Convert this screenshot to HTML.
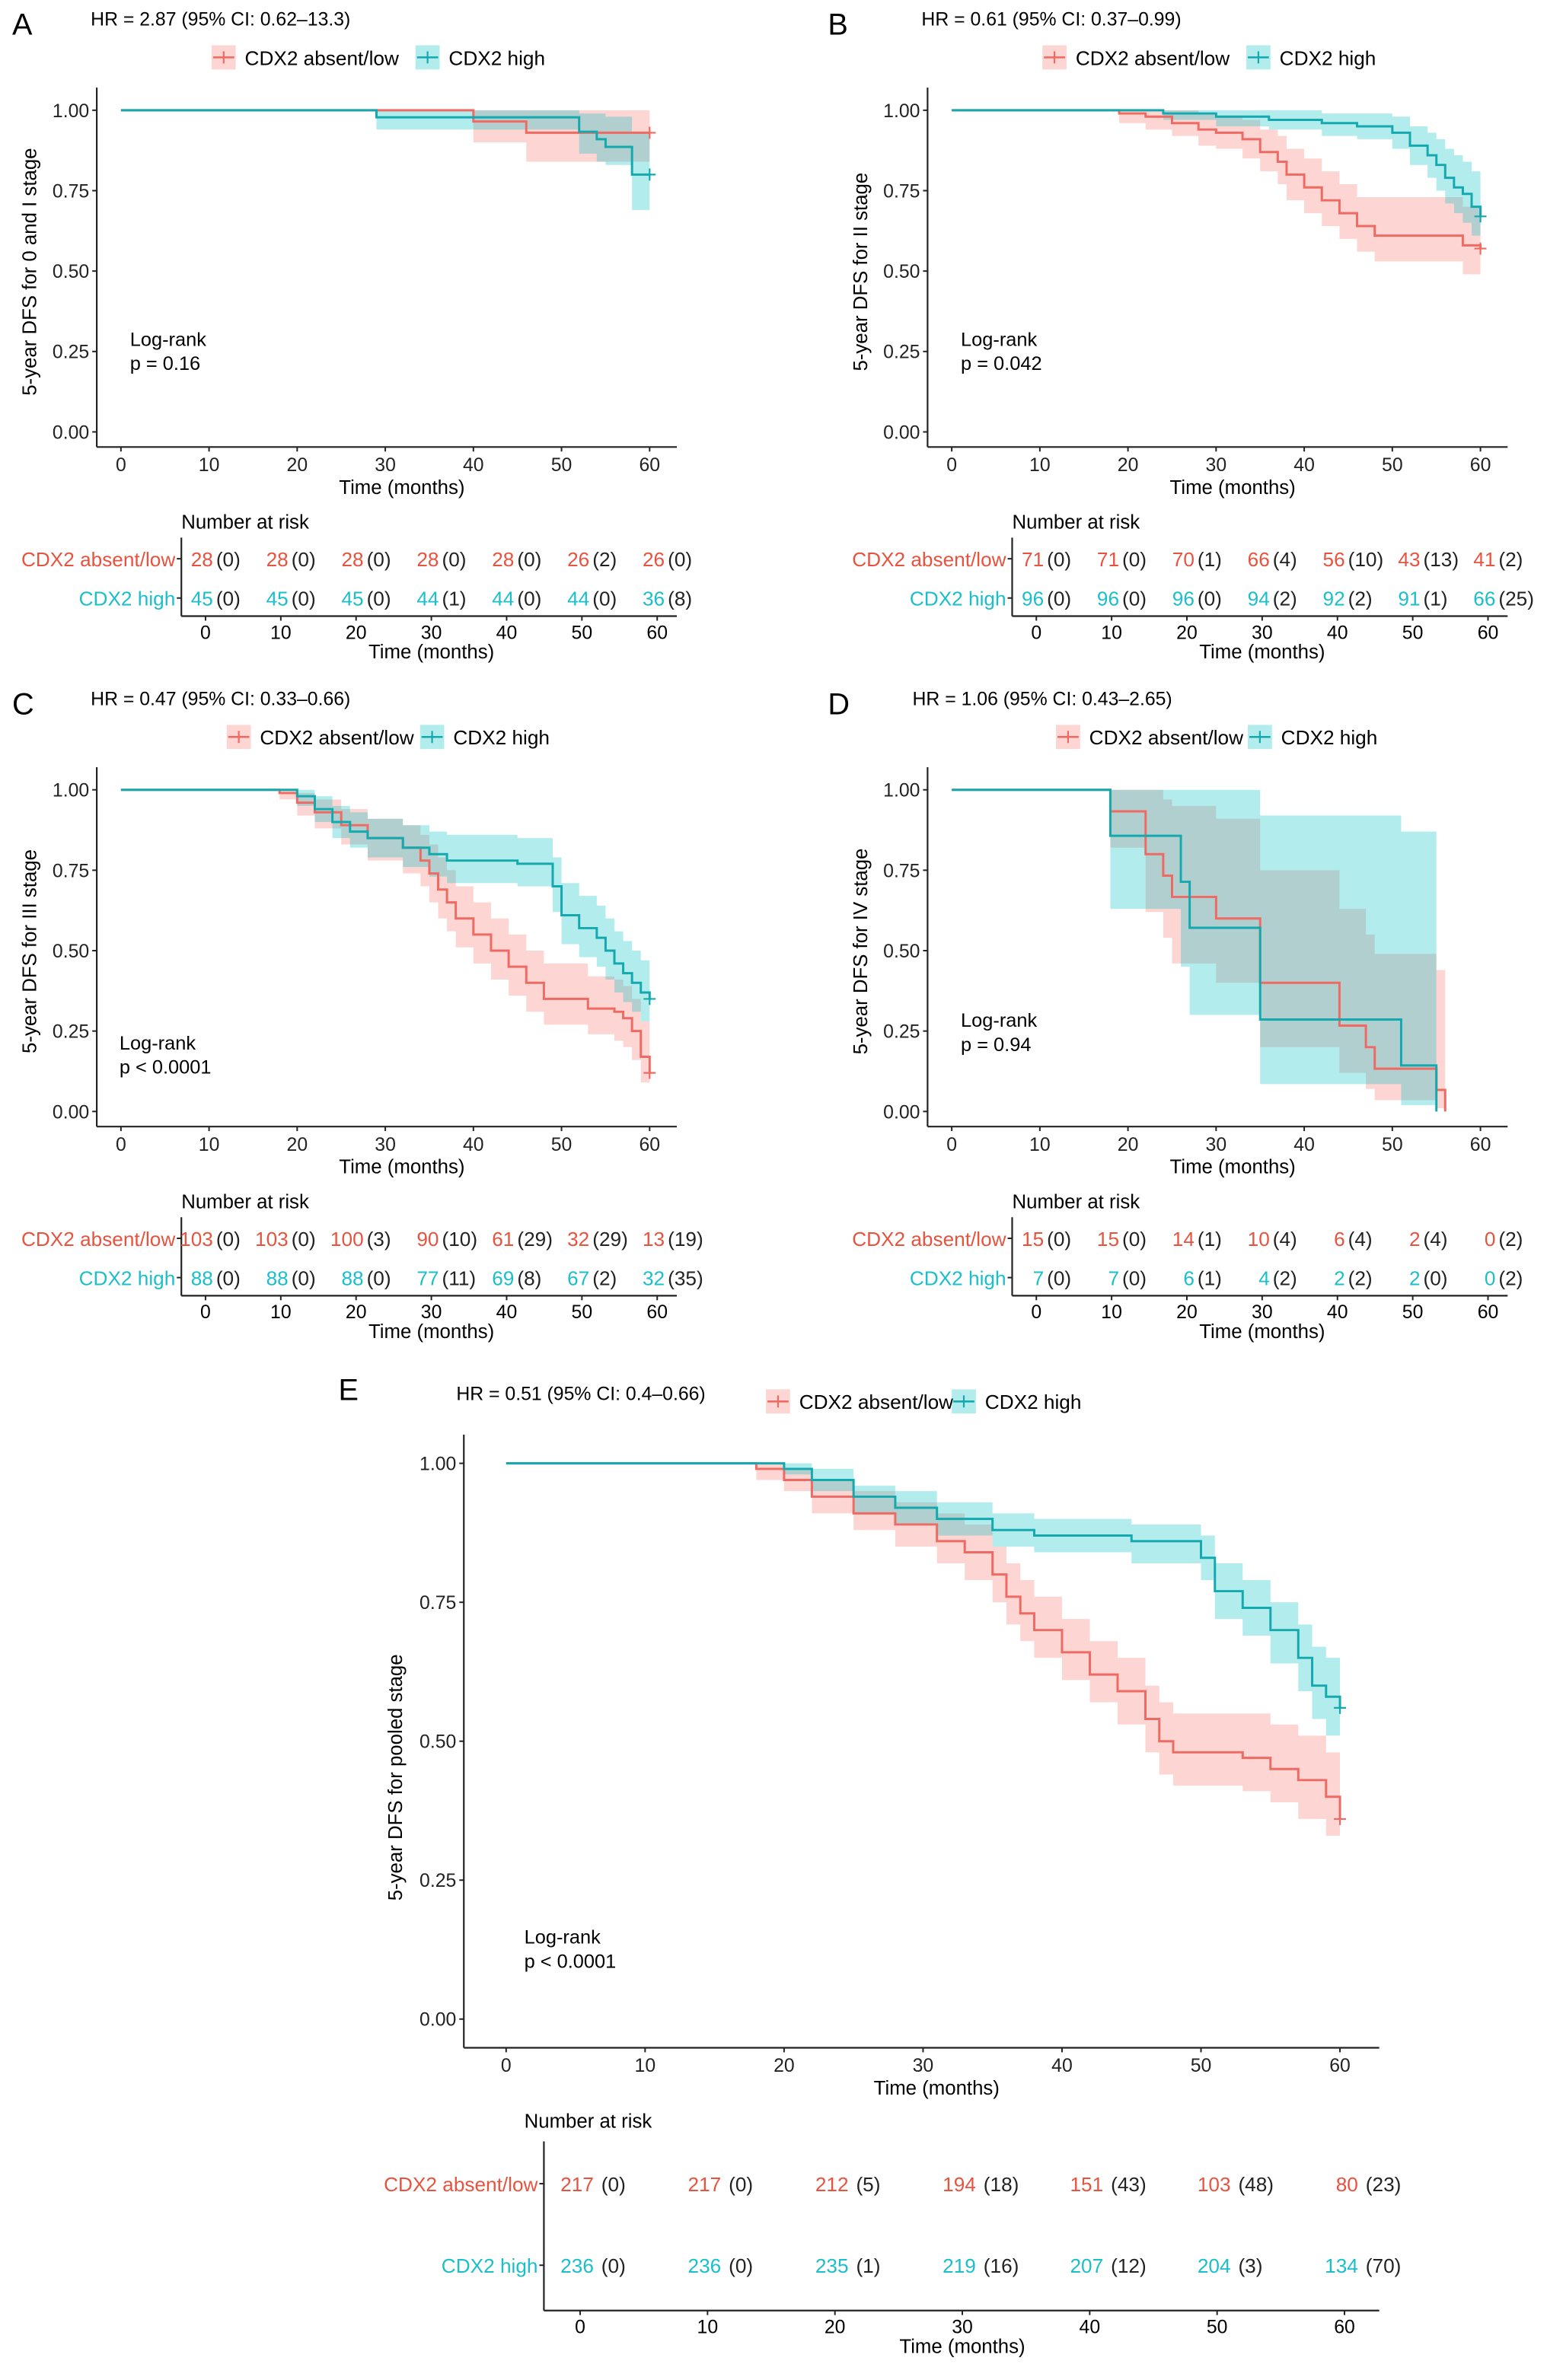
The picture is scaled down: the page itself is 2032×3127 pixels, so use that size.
<!DOCTYPE html>
<html><head><meta charset="utf-8">
<style>
html,body{margin:0;padding:0;background:#fff;}
svg{display:block;font-family:"Liberation Sans",Arial,sans-serif;}
</style></head>
<body>
<svg id="fig" width="2032" height="3127" viewBox="0 0 1024 1576" xmlns="http://www.w3.org/2000/svg"></svg>
<script>
// ---------- DATA ----------
const ticksX=[0,10,20,30,40,50,60];
const ticksY=[0,0.25,0.5,0.75,1];
const tickLabelsY=["0.00","0.25","0.50","0.75","1.00"];
const groupNames=["CDX2 absent/low","CDX2 high"];

const aRedT=[0,40,46,60], aRedS=[1,.965,.93,.93], aRedLo=[1,.90,.84,.84], aRedHi=[1,1,1,1];
const aTealT=[0,29,52,54,55,58,60], aTealS=[1,.978,.933,.91,.886,.80,.80], aTealLo=[1,.94,.865,.84,.83,.69,.69], aTealHi=[1,1,.99,.99,.98,.93,.93];

const bRedT=[0,19,22,25,28,30,33,35,37,38,40,42,44,46,48,58,60], bRedS=[1,.99,.98,.96,.94,.93,.91,.87,.84,.80,.76,.72,.68,.64,.61,.58,.57];
const bRedLo=[1,.96,.94,.92,.89,.88,.85,.81,.77,.72,.68,.64,.60,.56,.53,.49,.48], bRedHi=[1,1,1,1,.99,.98,.97,.94,.92,.88,.85,.81,.77,.73,.73,.70,.70];
const bTealT=[0,24,30,36,42,46,50,52,54,55,56,57,58,59,60], bTealS=[1,.99,.98,.97,.96,.95,.93,.89,.86,.83,.79,.76,.74,.70,.67];
const bTealLo=[1,.97,.95,.94,.92,.91,.88,.83,.79,.75,.71,.68,.65,.61,.59], bTealHi=[1,1,1,1,.99,.99,.98,.95,.93,.91,.88,.86,.84,.81,.78];

const cRedT=[0,18,20,22,25,28,32,34,35,36,37,38,40,42,44,46,48,53,56,57,58,59,60], cRedS=[1,.99,.96,.93,.89,.85,.82,.78,.74,.69,.65,.60,.55,.50,.45,.40,.35,.32,.31,.29,.25,.17,.12];
const cRedLo=[1,.97,.92,.88,.83,.78,.74,.70,.65,.60,.56,.51,.46,.41,.36,.31,.27,.24,.22,.20,.16,.09,.05], cRedHi=[1,1,.99,.97,.94,.91,.89,.86,.83,.79,.75,.70,.65,.60,.55,.50,.46,.42,.41,.39,.35,.28,.22];
const cTealT=[0,18,20,22,24,26,28,32,35,37,45,49,50,52,54,55,56,57,58,59,60], cTealS=[1,1,.98,.94,.90,.87,.85,.82,.80,.78,.77,.70,.61,.57,.54,.50,.46,.43,.40,.37,.35];
const cTealLo=[1,1,.95,.90,.85,.82,.79,.76,.73,.71,.70,.62,.52,.48,.45,.41,.37,.34,.31,.28,.26], cTealHi=[1,1,1,.98,.95,.93,.91,.89,.87,.86,.85,.79,.71,.67,.64,.60,.56,.53,.50,.47,.45];

const dRedT=[0,18,22,24,25,30,35,44,47,48,55,56], dRedS=[1,.933,.80,.733,.667,.60,.40,.267,.20,.133,.067,0];
const dRedLo=[1,.82,.62,.54,.46,.40,.20,.12,.07,.035,.01,0], dRedHi=[1,1,1,.97,.95,.91,.75,.63,.55,.49,.44,0];
const dTealT=[0,18,26,27,35,51,55], dTealS=[1,.857,.714,.571,.286,.143,0];
const dTealLo=[1,.63,.45,.30,.085,.02,0], dTealHi=[1,1,1,1,.92,.87,0];

const eRedT=[0,18,20,22,25,28,31,33,35,36,37,38,40,42,44,46,47,48,53,55,57,59,60], eRedS=[1,.99,.97,.94,.91,.89,.86,.84,.80,.76,.73,.70,.66,.62,.59,.54,.50,.48,.47,.45,.43,.40,.36];
const eRedLo=[1,.97,.95,.91,.88,.85,.82,.79,.75,.71,.68,.65,.61,.57,.53,.48,.44,.42,.41,.39,.36,.33,.31], eRedHi=[1,1,.99,.97,.95,.93,.91,.89,.85,.82,.79,.76,.72,.68,.65,.60,.57,.55,.55,.53,.51,.48,.44];
const eTealT=[0,18,20,22,25,28,31,35,38,45,50,51,53,55,57,58,59,60], eTealS=[1,1,.99,.97,.94,.92,.90,.88,.87,.86,.83,.77,.74,.70,.65,.60,.58,.56];
const eTealLo=[1,1,.98,.95,.91,.89,.87,.85,.84,.82,.79,.72,.69,.64,.59,.54,.51,.49], eTealHi=[1,1,1,.99,.96,.95,.93,.91,.90,.89,.87,.82,.79,.75,.71,.67,.65,.63];

const aRiskRed=[28,28,28,28,28,26,26], aCensRed=[0,0,0,0,0,2,0], aRiskTeal=[45,45,45,44,44,44,36], aCensTeal=[0,0,0,1,0,0,8];
const bRiskRed=[71,71,70,66,56,43,41], bCensRed=[0,0,1,4,10,13,2], bRiskTeal=[96,96,96,94,92,91,66], bCensTeal=[0,0,0,2,2,1,25];
const cRiskRed=[103,103,100,90,61,32,13], cCensRed=[0,0,3,10,29,29,19], cRiskTeal=[88,88,88,77,69,67,32], cCensTeal=[0,0,0,11,8,2,35];
const dRiskRed=[15,15,14,10,6,2,0], dCensRed=[0,0,1,4,4,4,2], dRiskTeal=[7,7,6,4,2,2,0], dCensTeal=[0,0,1,2,2,0,2];
const eRiskRed=[217,217,212,194,151,103,80], eCensRed=[0,0,5,18,43,48,23], eRiskTeal=[236,236,235,219,207,204,134], eCensTeal=[0,0,1,16,12,3,70];

// ---------- DRAWING ----------
const NS="http://www.w3.org/2000/svg";
const svg=document.getElementById('fig');
const RED="#F8766D", TEAL="#00BFC4", TEALL="#13A9AE", REDL="#EE6A62", REDT="#E8533F", TEALT="#1BBFCC";
function mk(tag,attrs,parent,text){const e=document.createElementNS(NS,tag);for(const k in attrs)e.setAttribute(k,attrs[k]);if(text!==undefined)e.textContent=text;(parent||svg).appendChild(e);return e;}

function drawPanel(p){
  const g=mk('g',{});
  
  
  const sx=t=>p.x0+(p.x60-p.x0)*t/60;
  const sy=v=>p.y0+(p.y1-p.y0)*v;
  const L=mk('text',{x:p.letter[0],y:p.letter[1],'font-size':20},g,p.id);
  
  
  const hr=mk('text',{x:p.hr[0],y:p.hr[1],'font-size':12.5},g,p.hrText);
  
  
  const lg=mk('g',{},g);
  
  
  [[p.leg[0],RED,REDL,groupNames[0]],[p.leg[2],TEAL,TEALL,groupNames[1]]].forEach((d,i)=>{
    const le=mk('g',{},lg);
    
    
    mk('rect',{x:d[0],y:p.leg[1]-8,width:16,height:16,fill:d[1],'fill-opacity':0.3},le);
    mk('line',{x1:d[0]+1,x2:d[0]+15,y1:p.leg[1],y2:p.leg[1],stroke:d[2],'stroke-width':1.3},le);
    mk('line',{x1:d[0]+8,x2:d[0]+8,y1:p.leg[1]-4,y2:p.leg[1]+4,stroke:d[2],'stroke-width':1.1},le);
    mk('text',{x:d[0]+22,y:p.leg[1]+5,'font-size':13.2},le,d[3]);
  });
  const series=[[p.rT,p.rS,p.rLo,p.rHi,RED,REDL,'red'],[p.tT,p.tS,p.tLo,p.tHi,TEAL,TEALL,'teal']];
  series.forEach(s=>{
    const [T,S,Lo,Hi,f]=s;
    let up=[],lo=[];
    for(let i=0;i<T.length-1;i++){up.push([sx(T[i]),sy(Hi[i])],[sx(T[i+1]),sy(Hi[i])]);lo.push([sx(T[i]),sy(Lo[i])],[sx(T[i+1]),sy(Lo[i])]);}
    const pts=up.concat(lo.reverse()).map(q=>q.join(',')).join(' ');
    const band=mk('polygon',{points:pts,fill:f,'fill-opacity':0.3,stroke:'none'},g);
    
    
  });
  series.forEach(s=>{
    const [T,S]=s;
    let d='M'+sx(T[0])+','+sy(S[0]);
    for(let i=1;i<T.length;i++){d+=' H'+sx(T[i])+' V'+sy(S[i]);}
    const ln=mk('path',{d:d,fill:'none',stroke:s[5],'stroke-width':1.5},g);
    
    
    const lt=T[T.length-1],ls=S[S.length-1];
    if(lt===60&&ls>0){
      const c=mk('path',{d:`M${sx(lt)-4},${sy(ls)}h8M${sx(lt)},${sy(ls)-4}v8`,stroke:s[5],'stroke-width':1.1},g);
      
      
    }
  });
  const ax=mk('g',{},g);
  
  
  mk('line',{x1:p.axL,x2:p.axL,y1:p.axTop,y2:p.axY,stroke:'#222','stroke-width':1.1},ax);
  mk('line',{x1:p.axL,x2:p.axR,y1:p.axY,y2:p.axY,stroke:'#222','stroke-width':1.1},ax);
  ticksX.forEach(t=>{mk('line',{x1:sx(t),x2:sx(t),y1:p.axY,y2:p.axY+3,stroke:'#222'},ax);
    mk('text',{x:sx(t),y:p.axY+16,'font-size':12.5,'text-anchor':'middle',fill:'#222'},ax,t);});
  ticksY.forEach((v,i)=>{mk('line',{x1:p.axL-3,x2:p.axL,y1:sy(v),y2:sy(v),stroke:'#222'},ax);
    mk('text',{x:p.axL-5,y:sy(v)+4.5,'font-size':12.5,'text-anchor':'end',fill:'#222'},ax,tickLabelsY[i]);});
  const xt=mk('text',{x:(p.axL+p.axR)/2+10,y:p.axY+31,'font-size':13,'text-anchor':'middle'},g,'Time (months)');
  
  
  const yt=mk('text',{x:0,y:0,'font-size':13,'text-anchor':'middle',transform:`translate(${p.yTitle[0]},${p.yTitle[1]}) rotate(-90)`},g,p.yTitleText);
  
  
  const lr=mk('text',{x:p.lr[0],y:p.lr[1],'font-size':12.8},g);
  
  
  mk('tspan',{x:p.lr[0],dy:0},lr,'Log-rank');
  mk('tspan',{x:p.lr[0],dy:16},lr,p.pText);
  const r=p.risk;
  const rsx=t=>r.x0+(r.x60-r.x0)*t/60;
  const rt=mk('g',{},g);
  
  
  mk('text',{x:r.title[0],y:r.title[1],'font-size':13},rt,'Number at risk');
  mk('line',{x1:r.vx,x2:r.vx,y1:r.top,y2:r.hy,stroke:'#222','stroke-width':1.1},rt);
  mk('line',{x1:r.vx,x2:p.axR,y1:r.hy,y2:r.hy,stroke:'#222','stroke-width':1.1},rt);
  [[r.rowY[0],REDT,p.riskR,p.censR,groupNames[0]],[r.rowY[1],TEALT,p.riskT,p.censT,groupNames[1]]].forEach(row=>{
    mk('line',{x1:r.vx-3,x2:r.vx,y1:row[0],y2:row[0],stroke:'#222'},rt);
    mk('text',{x:r.vx-4,y:row[0]+5,'font-size':13.2,'text-anchor':'end',fill:row[1]},rt,row[4]);
    ticksX.forEach((t,i)=>{
      mk('text',{x:rsx(t)+r.nOff,y:row[0]+5,'font-size':13.2,'text-anchor':'end',fill:row[1]},rt,row[2][i]);
      mk('text',{x:rsx(t)+r.cOff,y:row[0]+5,'font-size':13.2,fill:'#222'},rt,'('+row[3][i]+')');
    });
  });
  ticksX.forEach(t=>{mk('line',{x1:rsx(t),x2:rsx(t),y1:r.hy,y2:r.hy+3,stroke:'#222'},rt);
    mk('text',{x:rsx(t),y:r.hy+15,'font-size':12.5,'text-anchor':'middle'},rt,t);});
  mk('text',{x:(r.x0+r.x60)/2,y:r.hy+28,'font-size':13,'text-anchor':'middle'},rt,'Time (months)');
}

function smallPanel(id,dx,dy,extra){
  return Object.assign({id:id,letter:[8+dx-(dx?10:0),23+dy],hr:[60+dx,17+dy],leg:[140+dx,38+dy,275+dx],
    x0:80+dx,x60:430+dx,y1:73+dy,y0:286+dy,axL:64+dx,axR:448+dx,axTop:58+dy,axY:296+dy,
    yTitle:[24+dx,180+dy],lr:[86+dx,229+dy],
    risk:{x0:136+dx,x60:435+dx,vx:120+dx,top:356+dy,hy:408+dy,rowY:[370+dy,396+dy],title:[120+dx,350+dy],nOff:5,cOff:7}},extra);
}

drawPanel(smallPanel('A',0,0,{hrText:'HR = 2.87 (95% CI: 0.62–13.3)',yTitleText:'5-year DFS for 0 and I stage',pText:'p = 0.16',
  rT:aRedT,rS:aRedS,rLo:aRedLo,rHi:aRedHi,tT:aTealT,tS:aTealS,tLo:aTealLo,tHi:aTealHi,riskR:aRiskRed,censR:aCensRed,riskT:aRiskTeal,censT:aCensTeal}));
drawPanel(smallPanel('B',550,0,{hrText:'HR = 0.61 (95% CI: 0.37–0.99)',yTitleText:'5-year DFS for II stage',pText:'p = 0.042',
  rT:bRedT,rS:bRedS,rLo:bRedLo,rHi:bRedHi,tT:bTealT,tS:bTealS,tLo:bTealLo,tHi:bTealHi,riskR:bRiskRed,censR:bCensRed,riskT:bRiskTeal,censT:bCensTeal}));
drawPanel(smallPanel('C',0,450,{hrText:'HR = 0.47 (95% CI: 0.33–0.66)',yTitleText:'5-year DFS for III stage',pText:'p < 0.0001',lr:[79,695],leg:[150,488,278],
  rT:cRedT,rS:cRedS,rLo:cRedLo,rHi:cRedHi,tT:cTealT,tS:cTealS,tLo:cTealLo,tHi:cTealHi,riskR:cRiskRed,censR:cCensRed,riskT:cRiskTeal,censT:cCensTeal}));
drawPanel(smallPanel('D',550,450,{hrText:'HR = 1.06 (95% CI: 0.43–2.65)',yTitleText:'5-year DFS for IV stage',pText:'p = 0.94',lr:[636,680],hr:[604,467],leg:[699,488,826],
  rT:dRedT,rS:dRedS,rLo:dRedLo,rHi:dRedHi,tT:dTealT,tS:dTealS,tLo:dTealLo,tHi:dTealHi,riskR:dRiskRed,censR:dCensRed,riskT:dRiskTeal,censT:dCensTeal}));
drawPanel({id:'E',letter:[224,927],hr:[302,927],leg:[507,928,630],hrText:'HR = 0.51 (95% CI: 0.4–0.66)',
  x0:335,x60:887,y1:969,y0:1337,axL:307,axR:913,axTop:950,axY:1356,yTitle:[266,1177],yTitleText:'5-year DFS for pooled stage',
  lr:[347,1287],pText:'p < 0.0001',
  rT:eRedT,rS:eRedS,rLo:eRedLo,rHi:eRedHi,tT:eTealT,tS:eTealS,tLo:eTealLo,tHi:eTealHi,riskR:eRiskRed,censR:eCensRed,riskT:eRiskTeal,censT:eCensTeal,
  risk:{x0:384,x60:890,vx:360,top:1418,hy:1530,rowY:[1446,1500],title:[347,1409],nOff:9,cOff:14}});
</script>
</body></html>
